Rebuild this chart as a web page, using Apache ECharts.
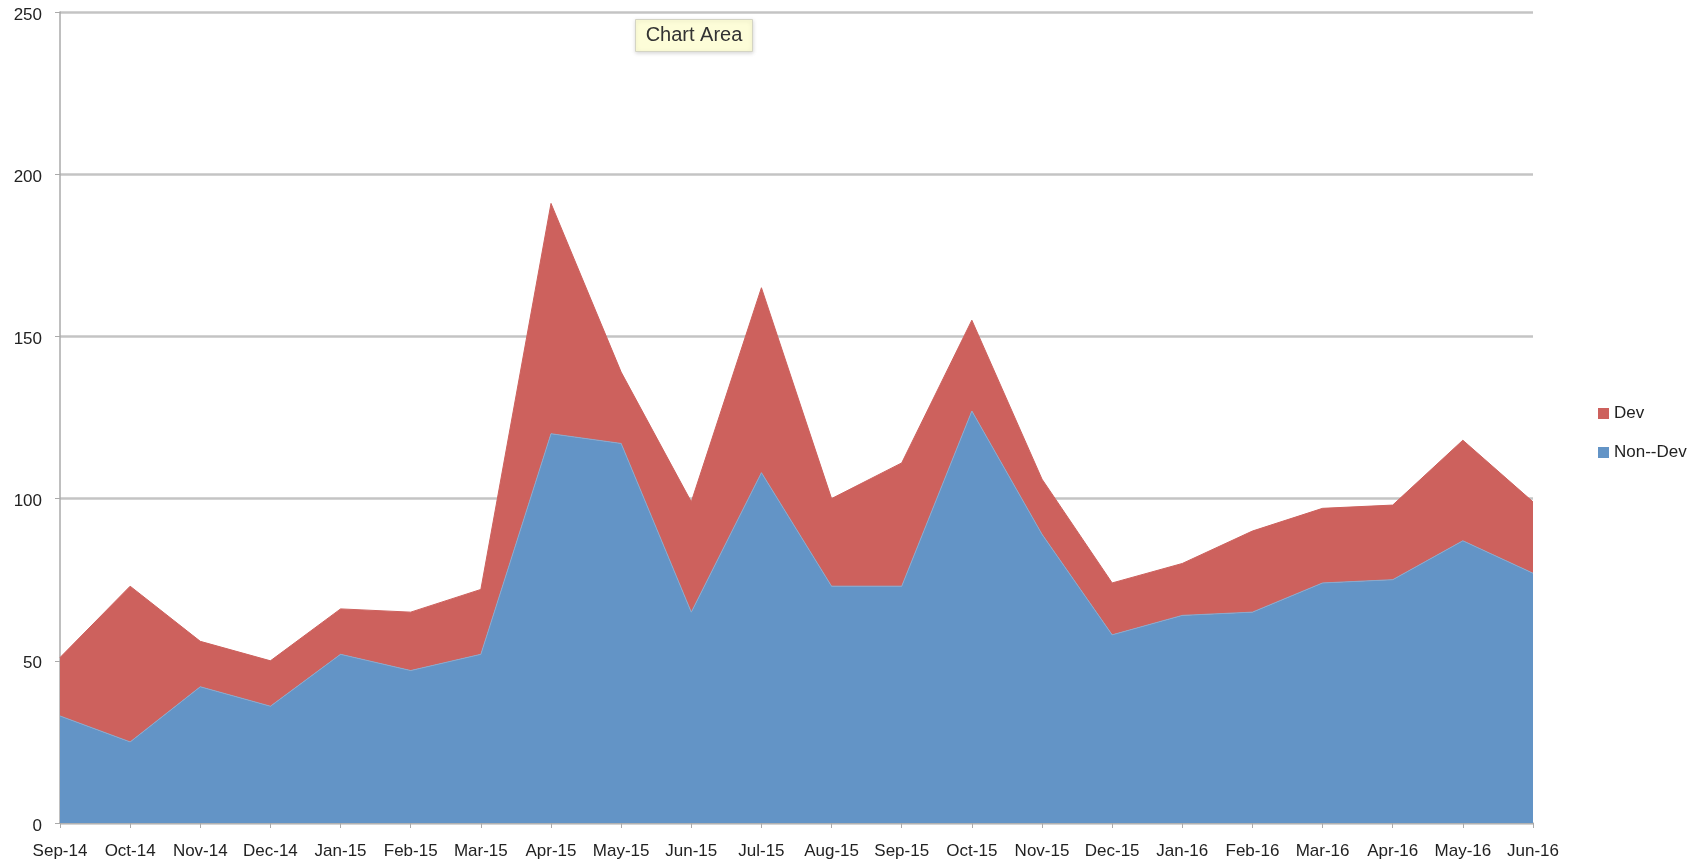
<!DOCTYPE html>
<html>
<head>
<meta charset="utf-8">
<script src="https://cdn.jsdelivr.net/npm/echarts@6/dist/echarts.min.js"></script>
<style>
html,body{margin:0;padding:0;background:#fff;}
#chart{width:1707px;height:862px;}
</style>
</head>
<body>
<div id="chart"></div>
<script>
const categories = ['Sep-14','Oct-14','Nov-14','Dec-14','Jan-15','Feb-15','Mar-15','Apr-15','May-15','Jun-15','Jul-15','Aug-15','Sep-15','Oct-15','Nov-15','Dec-15','Jan-16','Feb-16','Mar-16','Apr-16','May-16','Jun-16'];
const nonDev = [33,25,42,36,52,47,52,120,117,65,108,73,73,127,89,58,64,65,74,75,87,77];
const dev    = [18,48,14,14,14,18,20,71,22,34,57,27,38,28,17,16,16,25,23,23,31,22];
const yTicks = {min:0, max:250, interval:50};

const chart = echarts.init(document.getElementById('chart'), null, {renderer:'canvas'});
const font = 'Liberation Sans, Arial, sans-serif';
chart.setOption({
  animation:false,
  backgroundColor:'#ffffff',
  grid:{left:60, right:174, top:12, bottom:39, containLabel:false},
  legend:{
    orient:'vertical', left:1593, top:400,
    data:['Dev','Non--Dev'],
    icon:'rect', itemWidth:11, itemHeight:11, itemGap:22,
    textStyle:{fontFamily:font, fontSize:17, color:'#222'}
  },
  xAxis:{
    type:'category', data:categories, boundaryGap:false,
    axisLine:{lineStyle:{color:'#aaaaaa', width:1.5}},
    axisTick:{show:true, length:5, inside:false, lineStyle:{color:'#aaaaaa'}},
    axisLabel:{interval:0, margin:20, fontFamily:font, fontSize:17, color:'#222'},
    splitLine:{show:false}
  },
  yAxis:{
    type:'value', min:yTicks.min, max:yTicks.max, interval:yTicks.interval,
    axisLine:{show:true, lineStyle:{color:'#aaaaaa', width:1.5}},
    axisTick:{show:true, length:5, lineStyle:{color:'#aaaaaa'}},
    axisLabel:{margin:18, fontFamily:font, fontSize:17, color:'#222', verticalAlign:'top', lineHeight:6},
    splitLine:{show:true, lineStyle:{color:'#c4c4c4', width:2.5}}
  },
  series:[
    {
      name:'Non--Dev', type:'line', stack:'total', data:nonDev,
      symbol:'none', itemStyle:{color:'#6394c6'},
      lineStyle:{color:'#8aa9cc', width:1},
      areaStyle:{color:'#6394c6', opacity:1}, z:3
    },
    {
      name:'Dev', type:'line', stack:'total', data:dev,
      symbol:'none', itemStyle:{color:'#cd615d'},
      lineStyle:{color:'#cd615d', width:1},
      areaStyle:{color:'#cd615d', opacity:1}, z:2
    }
  ],
  graphic:[{
    type:'group', left:635, top:19, z:100,
    children:[
      {type:'rect', shape:{x:0,y:0,width:117,height:32},
       style:{fill:'#fdfdd8', stroke:'#d4d4c4', lineWidth:1, shadowBlur:4, shadowColor:'rgba(0,0,0,0.15)', shadowOffsetY:1}},
      {type:'text', x:58.5, y:16,
       style:{text:'Chart Area', fontFamily:font, fontSize:20, fill:'#333', align:'center', verticalAlign:'middle'}}
    ]
  }]
});
</script>
</body>
</html>
